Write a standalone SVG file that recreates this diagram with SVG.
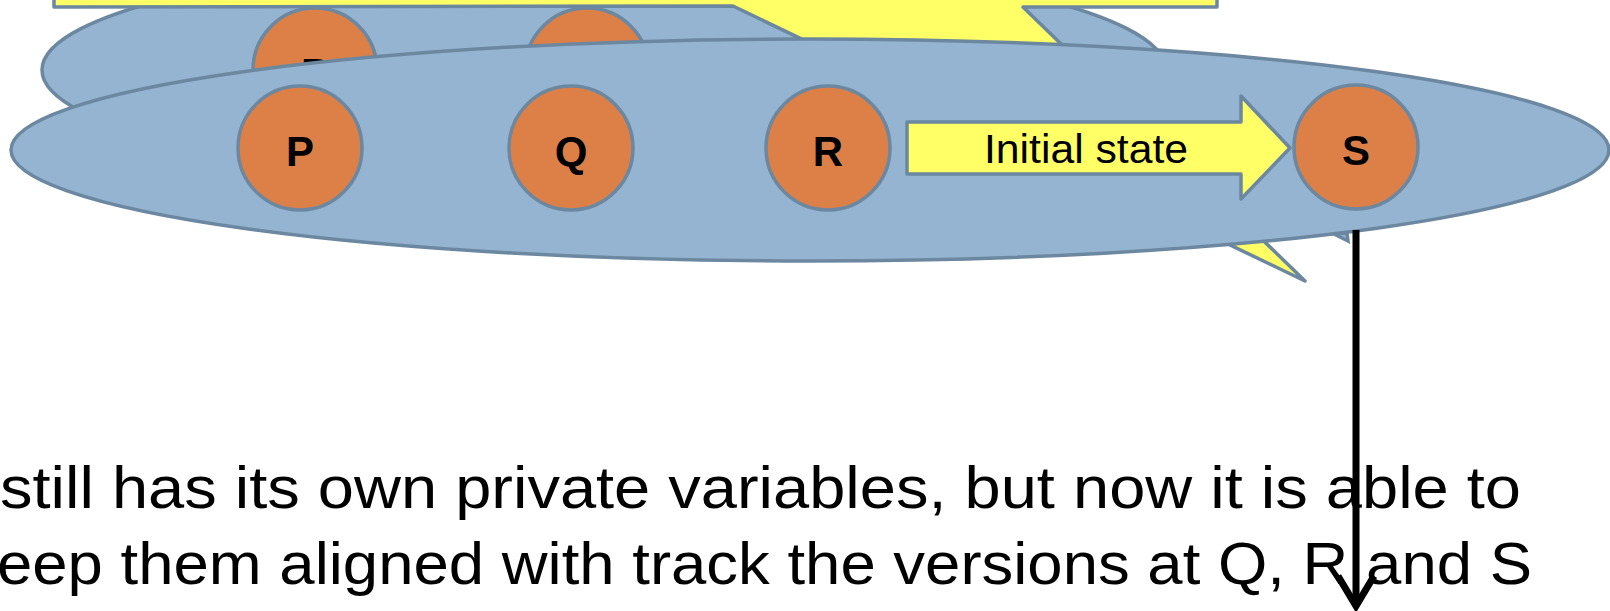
<svg xmlns="http://www.w3.org/2000/svg" width="1610" height="611" viewBox="0 0 1610 611">
  <style>
    .layer { fill: #94B4D2; stroke: #6C87A0; stroke-width: 3.5; }
    .node { fill: #DD8048; stroke: #6C87A0; stroke-width: 3.5; }
    .yellow { fill: #FFFF66; stroke: #6C87A0; stroke-width: 3.5; stroke-linejoin: round; }
    .lbl { font-family: "Liberation Sans", Arial, sans-serif; font-weight: bold; font-size: 42px; fill: #000; text-anchor: middle; }
    .arrowtxt { font-family: "Liberation Sans", Arial, sans-serif; font-size: 41px; fill: #000; text-anchor: middle; }
    .body { font-family: "Liberation Sans", Arial, sans-serif; font-size: 60px; fill: #000; }
    .conn { stroke: #000; stroke-width: 7; fill: none; }
  </style>
  <defs>
    <marker id="openhead" markerUnits="userSpaceOnUse" viewBox="-40 -25 50 50" markerWidth="50" markerHeight="50" refX="0" refY="0" orient="auto" overflow="visible">
      <path d="M-30,-18 L0,0 L-30,18" fill="none" stroke="#000" stroke-width="7" stroke-linejoin="miter"/>
    </marker>
  </defs>

  <!-- back layer -->
  <g id="back-layer">
    <ellipse class="layer" cx="604" cy="70" rx="562" ry="113"/>
    <g id="back-P">
      <circle class="node" cx="315" cy="70" r="62"/>
      <text class="lbl" x="315" y="88">P</text>
    </g>
    <g id="back-Q">
      <circle class="node" cx="587" cy="70" r="62"/>
      <text class="lbl" x="587" y="88">Q</text>
    </g>
    <path id="back-arrow" class="yellow" d="M54,-10 L1217,-10 L1217,7 L1023,7 L1305,281 L733,6 L54,7 Z"/>
    <path class="layer" d="M1334,234 L1348,241 L1347,233 Z"/>
  </g>

  <!-- front layer -->
  <g id="front-layer">
    <ellipse class="layer" cx="810" cy="150" rx="799" ry="111"/>
  </g>

  <!-- connectors -->
  <g id="connectors">
    <g id="initial-state-arrow">
      <path class="yellow" d="M907,122 L1241,122 L1241,96 L1290,148 L1241,199 L1241,174 L907,174 Z"/>
      <text class="arrowtxt" x="1086" y="163" textLength="204" lengthAdjust="spacingAndGlyphs">Initial state</text>
    </g>
    <line id="down-arrow" class="conn" x1="1356" y1="230" x2="1356" y2="606" marker-end="url(#openhead)"/>
  </g>

  <g id="node-P">
    <circle class="node" cx="300" cy="148" r="62"/>
    <text class="lbl" x="300" y="166">P</text>
  </g>
  <g id="node-Q">
    <circle class="node" cx="571" cy="148" r="62"/>
    <text class="lbl" x="571" y="166">Q</text>
  </g>
  <g id="node-R">
    <circle class="node" cx="828" cy="148" r="62"/>
    <text class="lbl" x="828" y="166">R</text>
  </g>
  <g id="node-S">
    <circle class="node" cx="1356" cy="147" r="62"/>
    <text class="lbl" x="1356" y="165">S</text>
  </g>

  <g id="caption">
    <text class="body" x="0" y="508" textLength="1521" lengthAdjust="spacingAndGlyphs">still has its own private variables, but now it is able to</text>
    <text class="body" x="-3" y="584" textLength="1535" lengthAdjust="spacingAndGlyphs">eep them aligned with track the versions at Q, R and S</text>
  </g>
</svg>
